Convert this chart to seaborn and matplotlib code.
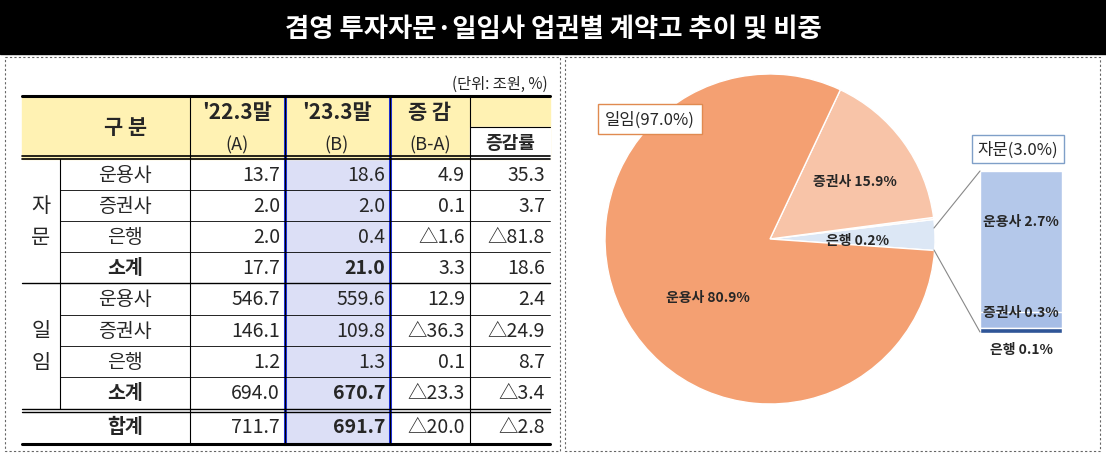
import matplotlib
matplotlib.use("Agg")
import matplotlib.pyplot as plt
import seaborn as sns
import pandas as pd
from matplotlib.patches import Rectangle

sns.set_theme(style="white")
plt.rcParams['font.family'] = ['Noto Sans CJK KR', 'DejaVu Sans']

title = "겸영 투자자문·일임사 업권별 계약고 추이 및 비중"
unit = "(단위: 조원, %)"
groups = ["자\n문", "일\n임"]
row_names = ["운용사", "증권사", "은행", "소계", "운용사", "증권사", "은행", "소계", "합계"]
col_a = ["13.7", "2.0", "2.0", "17.7", "546.7", "146.1", "1.2", "694.0", "711.7"]
col_b = ["18.6", "2.0", "0.4", "21.0", "559.6", "109.8", "1.3", "670.7", "691.7"]
col_diff = ["4.9", "0.1", "△1.6", "3.3", "12.9", "△36.3", "0.1", "△23.3", "△20.0"]
col_rate = ["35.3", "3.7", "△81.8", "18.6", "2.4", "△24.9", "8.7", "△3.4", "△2.8"]

pie_labels = ["자문", "은행", "증권사", "운용사"]
pie_values = [3.0, 0.2, 15.9, 80.9]
pie_colors = ["#DCE7F5", "#FBE6DA", "#F8C4A8", "#F4A072"]
bar_labels = ["운용사", "증권사", "은행"]
bar_values = [2.7, 0.3, 0.1]

fig = plt.figure(figsize=(11.06, 4.56), dpi=100)
ax = fig.add_axes([0, 0, 1, 1])
ax.set_xlim(0, 1106); ax.set_ylim(456, 0); ax.axis("off")

# title bar
ax.add_patch(Rectangle((0, 0), 1106, 55, color="black"))
ax.text(553, 29, title, color="white", fontsize=19, fontweight="bold", ha="center", va="center")
for x0, x1 in [(5, 560), (565, 1100)]:
    ax.add_patch(Rectangle((x0, 58), x1 - x0, 394, fill=False, ls=(0, (2, 2)), lw=0.8, ec="#666"))

ax.text(548, 84, unit, fontsize=11, ha="right", va="center")

cx = [22, 60, 190, 285, 390, 470, 550]
ry = [97, 130, 160, 191, 222, 253, 284, 316, 347, 378, 410, 445]
ax.add_patch(Rectangle((22, 97), 528, 63, color="#FFF2B3", zorder=0))
ax.add_patch(Rectangle((285, 97), 105, 348, color="#DCDFF6", zorder=0))
ax.add_patch(Rectangle((285, 97), 105, 63, color="#FFF2B3", zorder=0))
fs = 14
ax.text(125, 128, "구 분", fontsize=15, fontweight="bold", ha="center", va="center")
ax.text(237, 113, "'22.3말", fontsize=15, fontweight="bold", ha="center", va="center")
ax.text(237, 145, "(A)", fontsize=13, ha="center", va="center")
ax.text(337, 113, "'23.3말", fontsize=15, fontweight="bold", ha="center", va="center")
ax.text(337, 145, "(B)", fontsize=13, ha="center", va="center")
ax.text(430, 113, "증 감", fontsize=15, fontweight="bold", ha="center", va="center")
ax.text(430, 145, "(B-A)", fontsize=13, ha="center", va="center")
ax.add_patch(Rectangle((470, 128), 80, 32, color="white", zorder=0))
ax.text(510, 144, "증감률", fontsize=13, fontweight="bold", ha="center", va="center")

for i in range(9):
    yc = (ry[i + 2] + ry[i + 3]) / 2
    bold = row_names[i] in ("소계", "합계")
    ax.text(125, yc, row_names[i], fontsize=fs, fontweight="bold" if bold else "normal", ha="center", va="center")
    ax.text(cx[3] - 5, yc, col_a[i], fontsize=fs, ha="right", va="center")
    ax.text(cx[4] - 5, yc, col_b[i], fontsize=fs, ha="right", va="center", fontweight="bold" if bold else "normal")
    ax.text(cx[5] - 5, yc, col_diff[i], fontsize=fs, ha="right", va="center")
    ax.text(cx[6] - 5, yc, col_rate[i], fontsize=fs, ha="right", va="center")
ax.text(41, 222, groups[0], fontsize=15, ha="center", va="center", linespacing=1.6)
ax.text(41, 347, groups[1], fontsize=15, ha="center", va="center", linespacing=1.6)

ax.plot([22, 550], [97, 97], color="black", lw=2.2)
ax.plot([22, 550], [160, 160], color="black", lw=1.2)
ax.plot([22, 550], [157, 157], color="black", lw=1.2)
ax.plot([470, 550], [128, 128], color="black", lw=0.8)
ax.plot([22, 550], [284, 284], color="black", lw=1.0)
ax.plot([22, 550], [410, 410], color="black", lw=1.0)
ax.plot([22, 550], [413, 413], color="black", lw=1.0)
ax.plot([22, 550], [445, 445], color="black", lw=2.2)
for y in ry[3:6] + ry[7:10]:
    ax.plot([60, 550], [y, y], color="black", lw=0.6)
for x in cx[1:6]:
    ax.plot([x, x], [97 if x != 60 else 160, 445 if x != 60 else 410], color="black", lw=0.8)
ax.add_patch(Rectangle((285, 97), 105, 348, fill=False, ec="#1F33E0", lw=2.2))

# pie
pax = fig.add_axes([605 / 1106, (456 - 405) / 456, 330 / 1106, 330 / 456])
pax.pie(pie_values, colors=pie_colors, startangle=-4, counterclock=True,
        wedgeprops=dict(edgecolor="white", linewidth=1))
pax.set_xlim(-1, 1); pax.set_ylim(-1, 1); pax.set_aspect("equal")

# bar of pie
bax = fig.add_axes([980 / 1106, (456 - 334) / 456, 82 / 1106, 162 / 456])
df = pd.DataFrame({"k": ["자문"], "v": [sum(bar_values)]})
sns.barplot(data=df, x="k", y="v", color="#B4C8EA", width=1.0, ax=bax, saturation=1)
bax.bar([0], [bar_values[1]], bottom=bar_values[2], width=1.0, color="#A6BDE6")
bax.bar([0], [bar_values[2]], width=1.0, color="#2F5597")
bax.set_xlim(-0.5, 0.5); bax.set_ylim(0, sum(bar_values)); bax.axis("off")

# overlay for labels
tax = fig.add_axes([0, 0, 1, 1])
tax.set_xlim(0, 1106); tax.set_ylim(456, 0); tax.axis("off")
tax.patch.set_alpha(0)
bold_kw = dict(fontsize=10, fontweight="bold", ha="center", va="center")
tax.text(708, 298, "운용사 80.9%", **bold_kw)
tax.text(855, 182, "증권사 15.9%", **bold_kw)
tax.text(858, 241, "은행 0.2%", **bold_kw)
tax.text(650, 120, "일임(97.0%)", fontsize=12, ha="center", va="center",
         bbox=dict(boxstyle="square,pad=0.4", fc="white", ec="#E08A50", lw=1))
tax.text(1018, 150, "자문(3.0%)", fontsize=12, ha="center", va="center",
         bbox=dict(boxstyle="square,pad=0.35", fc="white", ec="#7F9FC8", lw=1))
tax.text(1021, 222, "운용사 2.7%", **bold_kw)
tax.text(1021, 313, "증권사 0.3%", **bold_kw)
tax.text(1021, 350, "은행 0.1%", **bold_kw)
tax.plot([934, 980], [229, 172], color="#888", lw=0.8)
tax.plot([934, 980], [251, 333], color="#888", lw=0.8)

fig.savefig("out.png", dpi=100)
